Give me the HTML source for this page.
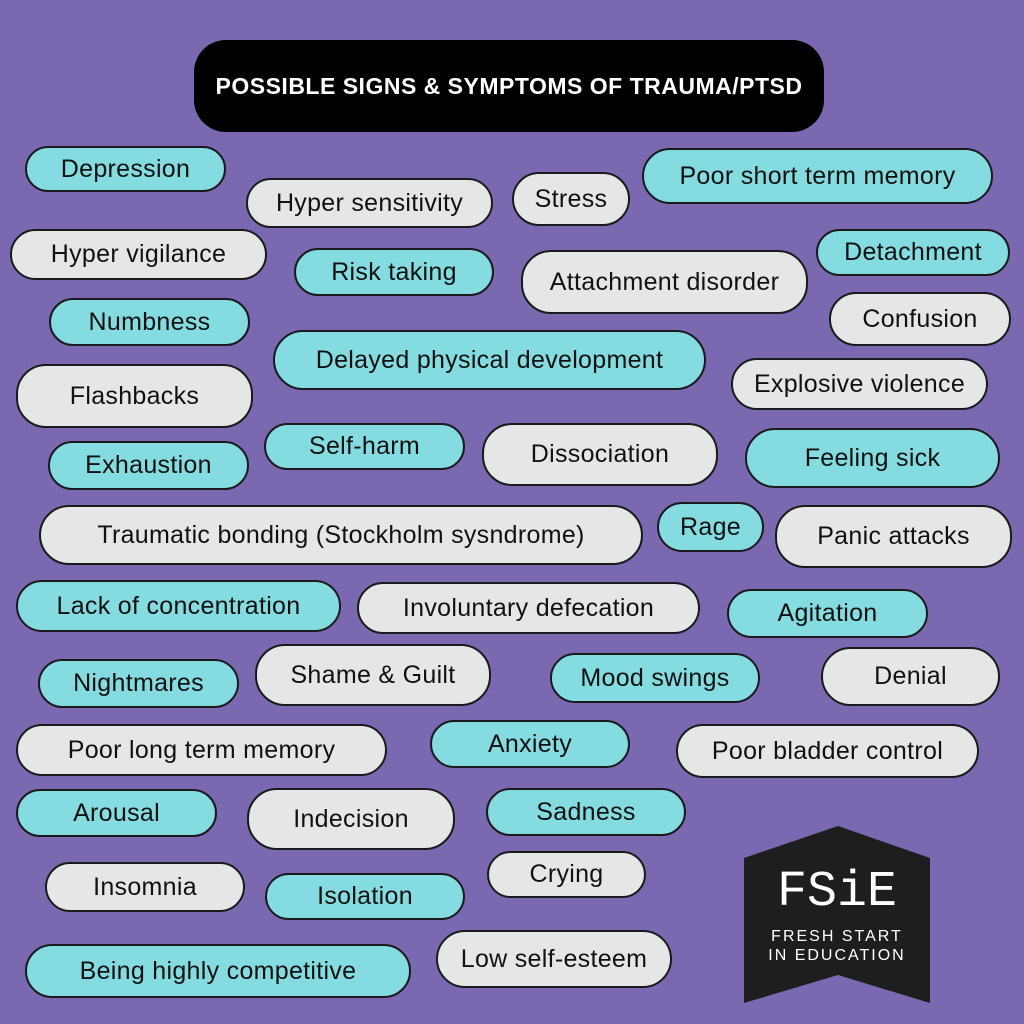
<!DOCTYPE html>
<html><head><style>
body{margin:0;width:1024px;height:1024px;background:#7a68b0;position:relative;overflow:hidden;font-family:"Liberation Sans",sans-serif}
.p{position:absolute;box-sizing:border-box;border:2px solid #1a1a1a;border-radius:30px;display:flex;align-items:center;justify-content:center;font-size:25px;color:#111;white-space:nowrap;letter-spacing:0.3px}
.c{background:#84dbe0}.g{background:#e6e6e6}
</style></head><body>
<div style="position:absolute;left:194px;top:40px;width:630px;height:92px;background:#000;border-radius:32px;color:#fff;font-weight:bold;font-size:23px;display:flex;align-items:center;justify-content:center;letter-spacing:0.5px">POSSIBLE SIGNS &amp; SYMPTOMS OF TRAUMA/PTSD</div>
<div id="w"></div>
<svg style="position:absolute;left:0;top:0" width="1024" height="1024">
<polygon points="744,858 838,826 930,858 930,1003 838,975 744,1003" fill="#1e1e1e"/>
<text x="837" y="905" fill="#fff" font-family="Liberation Mono,monospace" font-size="50" text-anchor="middle">FSiE</text>
<text x="837" y="941" fill="#fff" font-family="Liberation Sans,sans-serif" font-size="16" text-anchor="middle" letter-spacing="2">FRESH START</text>
<text x="837" y="960" fill="#fff" font-family="Liberation Sans,sans-serif" font-size="16" text-anchor="middle" letter-spacing="2">IN EDUCATION</text>
</svg>
<script>
const d=[["Depression",25,146,226,192,"c"],["Hyper sensitivity",246,178,493,228,"g"],["Stress",512,172,630,226,"g"],["Poor short term memory",642,148,993,204,"c"],["Hyper vigilance",10,229,267,280,"g"],["Risk taking",294,248,494,296,"c"],["Attachment disorder",521,250,808,314,"g"],["Detachment",816,229,1010,276,"c"],["Numbness",49,298,250,346,"c"],["Confusion",829,292,1011,346,"g"],["Delayed physical development",273,330,706,390,"c"],["Flashbacks",16,364,253,428,"g"],["Explosive violence",731,358,988,410,"g"],["Exhaustion",48,441,249,490,"c"],["Self-harm",264,423,465,470,"c"],["Dissociation",482,423,718,486,"g"],["Feeling sick",745,428,1000,488,"c"],["Traumatic bonding (Stockholm sysndrome)",39,505,643,565,"g"],["Rage",657,502,764,552,"c"],["Panic attacks",775,505,1012,568,"g"],["Lack of concentration",16,580,341,632,"c"],["Involuntary defecation",357,582,700,634,"g"],["Agitation",727,589,928,638,"c"],["Nightmares",38,659,239,708,"c"],["Shame & Guilt",255,644,491,706,"g"],["Mood swings",550,653,760,703,"c"],["Denial",821,647,1000,706,"g"],["Poor long term memory",16,724,387,776,"g"],["Anxiety",430,720,630,768,"c"],["Poor bladder control",676,724,979,778,"g"],["Arousal",16,789,217,837,"c"],["Indecision",247,788,455,850,"g"],["Sadness",486,788,686,836,"c"],["Insomnia",45,862,245,912,"g"],["Isolation",265,873,465,920,"c"],["Crying",487,851,646,898,"g"],["Being highly competitive",25,944,411,998,"c"],["Low self-esteem",436,930,672,988,"g"]];
let h="";for(const [t,a,b,c,e,k] of d){h+=`<div class="p ${k}" style="left:${a}px;top:${b}px;width:${c-a}px;height:${e-b}px">${t.replace("&","&amp;")}</div>`}
document.getElementById("w").innerHTML=h;
</script>
</body></html>
